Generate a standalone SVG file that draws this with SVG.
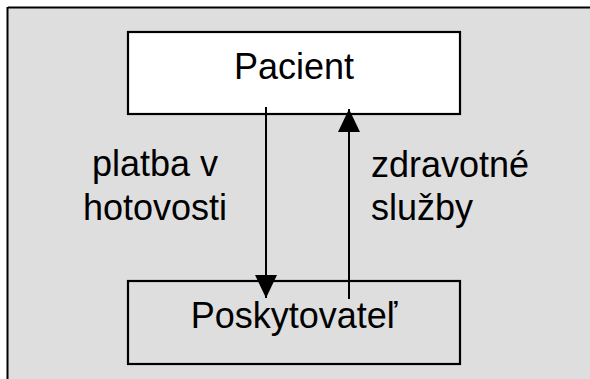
<svg xmlns="http://www.w3.org/2000/svg" width="590" height="379" viewBox="0 0 590 379">
  <style>
    .box { stroke: #000; stroke-width: 2.2; }
    .lbl { font-family: "Liberation Sans", Arial, sans-serif; font-size: 36px; fill: #000; }
    .conn { stroke: #000; stroke-width: 2; fill: none; marker-end: url(#ah); }
  </style>
  <defs>
    <marker id="ah" viewBox="0 0 23 22" refX="23" refY="11" markerWidth="23" markerHeight="22" markerUnits="userSpaceOnUse" orient="auto">
      <path d="M0,0 L23,11 L0,22 Z" fill="#000"/>
    </marker>
  </defs>
  <rect x="0" y="0" width="590" height="379" fill="#ffffff"/>
  <rect x="8" y="8" width="590" height="380" fill="#dedede"/>
  <line x1="8" y1="7.5" x2="590" y2="7.5" stroke="#000" stroke-width="2"/>
  <line x1="7.5" y1="7" x2="7.5" y2="379" stroke="#000" stroke-width="2"/>

  <g id="pacient">
    <rect class="box" x="128" y="32" width="332" height="82" fill="#ffffff"/>
    <text class="lbl" x="294" y="79" text-anchor="middle">Pacient</text>
  </g>
  <g id="poskytovatel">
    <rect class="box" x="128" y="281" width="332" height="83" fill="none"/>
    <text class="lbl" x="294" y="328" text-anchor="middle">Poskytovateľ</text>
  </g>

  <g id="connectors">
    <line class="conn" x1="266" y1="107" x2="266" y2="298"/>
    <line class="conn" x1="349" y1="299" x2="349" y2="109"/>
  </g>

  <g id="label-platba">
    <text class="lbl" x="155" y="176" text-anchor="middle">platba v</text>
    <text class="lbl" x="155" y="220" text-anchor="middle">hotovosti</text>
  </g>
  <g id="label-sluzby">
    <text class="lbl" x="371" y="177">zdravotné</text>
    <text class="lbl" x="371" y="220">služby</text>
  </g>
</svg>
